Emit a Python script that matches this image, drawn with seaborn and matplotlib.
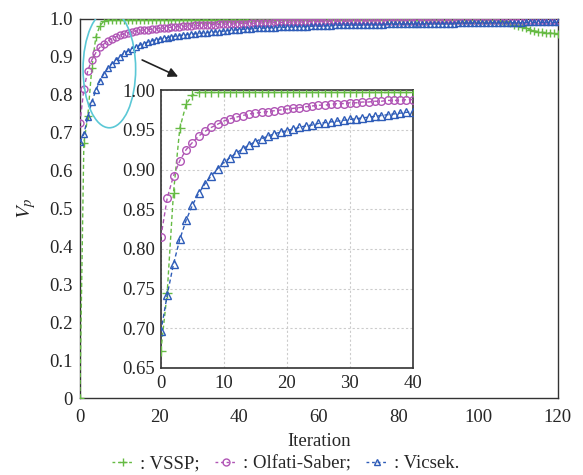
import numpy as np
import pandas as pd
import matplotlib
matplotlib.use("Agg")
import matplotlib.pyplot as plt
import seaborn as sns
from matplotlib.patches import Ellipse

# ---------------- data ----------------
iteration = list(range(0, 121))

vssp = [
    0.000, 0.672, 0.745, 0.871, 0.952, 0.982, 0.994, 0.997, 0.997, 0.997,
    0.997, 0.997, 0.997, 0.997, 0.997, 0.997, 0.997, 0.997, 0.997, 0.997,
    0.997, 0.997, 0.997, 0.997, 0.997, 0.997, 0.997, 0.997, 0.997, 0.997,
    0.997, 0.997, 0.997, 0.997, 0.997, 0.997, 0.997, 0.997, 0.997, 0.997,
    0.997, 0.997, 0.997, 0.997, 0.997, 0.997, 0.997, 0.997, 0.997, 0.997,
    0.997, 0.997, 0.997, 0.997, 0.997, 0.997, 0.997, 0.997, 0.997, 0.997,
    0.997, 0.997, 0.997, 0.997, 0.997, 0.997, 0.997, 0.997, 0.997, 0.997,
    0.997, 0.997, 0.997, 0.997, 0.997, 0.997, 0.997, 0.997, 0.997, 0.997,
    0.997, 0.997, 0.997, 0.997, 0.997, 0.997, 0.997, 0.997, 0.997, 0.997,
    0.997, 0.997, 0.997, 0.997, 0.997, 0.997, 0.997, 0.997, 0.997, 0.997,
    0.997, 0.997, 0.997, 0.997, 0.997, 0.997, 0.996, 0.995, 0.990, 0.985,
    0.981, 0.978, 0.975, 0.972, 0.969, 0.967, 0.965, 0.964, 0.963, 0.962,
    0.961,
]

olfati = [
    0.725, 0.815, 0.864, 0.892, 0.911, 0.925, 0.934, 0.942, 0.948, 0.953,
    0.957, 0.961, 0.964, 0.966, 0.968, 0.970, 0.971, 0.972, 0.973, 0.974,
    0.975, 0.976, 0.977, 0.978, 0.979, 0.980, 0.981, 0.981, 0.982, 0.983,
    0.983, 0.984, 0.984, 0.985, 0.985, 0.986, 0.986, 0.987, 0.987, 0.987,
    0.988, 0.988, 0.988, 0.989, 0.989, 0.989, 0.990, 0.990, 0.990, 0.991,
    0.991, 0.991, 0.991, 0.992, 0.992, 0.992, 0.992, 0.993, 0.993, 0.993,
    0.993, 0.993, 0.994, 0.994, 0.994, 0.994, 0.994, 0.994, 0.995, 0.995,
    0.995, 0.995, 0.995, 0.995, 0.995, 0.996, 0.996, 0.996, 0.996, 0.996,
    0.996, 0.996, 0.996, 0.996, 0.996, 0.996, 0.996, 0.996, 0.997, 0.997,
    0.997, 0.997, 0.997, 0.997, 0.997, 0.997, 0.997, 0.997, 0.997, 0.997,
    0.997, 0.997, 0.997, 0.997, 0.997, 0.997, 0.997, 0.997, 0.997, 0.997,
    0.997, 0.997, 0.997, 0.997, 0.997, 0.997, 0.997, 0.997, 0.997, 0.997,
    0.997,
]

vicsek = [
    0.675, 0.696, 0.742, 0.781, 0.812, 0.836, 0.855, 0.870, 0.882, 0.892,
    0.901, 0.909, 0.915, 0.921, 0.926, 0.931, 0.935, 0.939, 0.942, 0.945,
    0.947, 0.949, 0.951, 0.953, 0.955, 0.956, 0.958, 0.959, 0.960, 0.961,
    0.962, 0.963, 0.964, 0.965, 0.966, 0.967, 0.968, 0.969, 0.970, 0.971,
    0.972, 0.973, 0.974, 0.974, 0.975, 0.975, 0.976, 0.976, 0.977, 0.977,
    0.978, 0.978, 0.978, 0.979, 0.979, 0.980, 0.980, 0.980, 0.981, 0.981,
    0.981, 0.982, 0.982, 0.982, 0.983, 0.983, 0.983, 0.983, 0.984, 0.984,
    0.984, 0.984, 0.985, 0.985, 0.985, 0.985, 0.985, 0.986, 0.986, 0.986,
    0.986, 0.986, 0.987, 0.987, 0.987, 0.987, 0.987, 0.987, 0.988, 0.988,
    0.988, 0.988, 0.988, 0.988, 0.988, 0.989, 0.989, 0.989, 0.989, 0.989,
    0.989, 0.989, 0.989, 0.990, 0.990, 0.990, 0.990, 0.990, 0.990, 0.990,
    0.990, 0.990, 0.991, 0.991, 0.991, 0.991, 0.991, 0.991, 0.991, 0.991,
    0.991,
]

series_names = ["VSSP", "Olfati-Saber", "Vicsek"]
legend_labels = [": VSSP;", ": Olfati-Saber;", ": Vicsek."]
main_xticks = [0, 20, 40, 60, 80, 100, 120]
main_yticks = [0, 0.1, 0.2, 0.3, 0.4, 0.5, 0.6, 0.7, 0.8, 0.9, 1.0]
main_yticklabels = ["0", "0.1", "0.2", "0.3", "0.4", "0.5", "0.6", "0.7", "0.8", "0.9", "1.0"]
inset_xticks = [0, 10, 20, 30, 40]
inset_yticks = [0.65, 0.70, 0.75, 0.80, 0.85, 0.90, 0.95, 1.00]

# ---------------- style ----------------
sns.set_theme(style="white")
plt.rcParams["font.family"] = ["Liberation Serif", "DejaVu Serif"]
plt.rcParams["mathtext.fontset"] = "stix"
plt.rcParams["xtick.direction"] = "in"
plt.rcParams["ytick.direction"] = "in"

colors = {"VSSP": "#66bb44", "Olfati-Saber": "#b055b5", "Vicsek": "#2e5cb8"}
markers = {"VSSP": "+", "Olfati-Saber": "o", "Vicsek": "^"}
msize_main = {"VSSP": 6, "Olfati-Saber": 5, "Vicsek": 5}
msize_in = {"VSSP": 6.5, "Olfati-Saber": 5.5, "Vicsek": 6}
values = {"VSSP": vssp, "Olfati-Saber": olfati, "Vicsek": vicsek}

fig = plt.figure(figsize=(5.83, 4.75), dpi=100)
ax = fig.add_axes([0.137, 0.162, 0.820, 0.798])
axin = fig.add_axes([0.276, 0.2253, 0.432, 0.585])

df = pd.DataFrame({"Iteration": iteration, **values})
dash = (0, (3, 2))

handles = []
for name in series_names:
    c = colors[name]
    sns.lineplot(data=df, x="Iteration", y=name, ax=ax, color=c,
                 linestyle=dash, linewidth=1.0, marker=markers[name],
                 markersize=msize_main[name], markerfacecolor="none",
                 markeredgecolor=c, markeredgewidth=1.0, zorder=3)
    # inset: iterations 1..41 shown as 0..40
    sub = df[(df["Iteration"] >= 1) & (df["Iteration"] <= 41)].copy()
    sub["k"] = sub["Iteration"] - 1
    sns.lineplot(data=sub, x="k", y=name, ax=axin, color=c,
                 linestyle=dash, linewidth=1.0, marker=markers[name],
                 markersize=msize_in[name], markerfacecolor="none",
                 markeredgecolor=c, markeredgewidth=1.0, zorder=3)
    h, = ax.plot([], [], color=c, linestyle=(0, (2, 2)), linewidth=1.0,
                 marker=markers[name], markersize=msize_main[name],
                 markerfacecolor="none", markeredgecolor=c,
                 markeredgewidth=1.0)
    handles.append(h)

# main axes
ax.set_xlim(0, 120)
ax.set_ylim(0, 1.0)
ax.set_xticks(main_xticks)
ax.set_yticks(main_yticks)
ax.set_yticklabels(main_yticklabels)
ax.tick_params(axis="both", labelsize=13.5, length=4, width=0.8,
               color="#222222")
ax.tick_params(axis="x", pad=8)
ax.tick_params(axis="y", pad=5)
ax.set_xlabel("Iteration", fontsize=13.5, labelpad=5)
ax.set_ylabel(r"$V_p$", fontsize=15, labelpad=8)
for s in ax.spines.values():
    s.set_color("#333333")
    s.set_linewidth(1.0)

# inset axes
axin.set_xlim(0, 40)
axin.set_ylim(0.65, 1.00)
axin.set_xticks(inset_xticks)
axin.set_yticks(inset_yticks)
axin.set_yticklabels([f"{v:.2f}" for v in inset_yticks])
axin.tick_params(axis="both", labelsize=13.5, length=4, width=0.8,
                 color="#222222")
axin.tick_params(axis="x", pad=5)
axin.tick_params(axis="y", pad=4)
axin.set_xlabel("")
axin.set_ylabel("")
axin.grid(True, linestyle=(0, (2, 2)), color="#cccccc", linewidth=0.8)
for s in axin.spines.values():
    s.set_color("#333333")
    s.set_linewidth(1.2)

# annotation: ellipse and arrow
ell = Ellipse((7.4, 0.868), width=13.2, height=0.31, angle=0,
              fill=False, edgecolor="#5bc8d6", linewidth=1.2, zorder=4)
ax.add_patch(ell)
ax.annotate("", xy=(25.3, 0.845), xytext=(15.0, 0.895),
            arrowprops=dict(arrowstyle="-|>", color="#222222", lw=1.2,
                            mutation_scale=14), zorder=5)

fig.legend(handles, legend_labels, loc="lower center", ncol=3,
           bbox_to_anchor=(0.49, -0.03), frameon=False, fontsize=13.5,
           handlelength=1.2, handletextpad=0.3, columnspacing=0.8)

fig.savefig("out.png", dpi=100)
